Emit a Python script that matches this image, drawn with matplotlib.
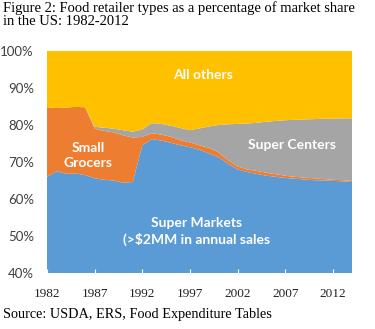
import numpy as np
import matplotlib.pyplot as plt

years = list(range(1982, 2015))

# доли рынка, % (оценка по картинке)
super_markets = [66.0, 67.5, 66.8, 66.9, 66.5, 65.6, 65.2, 65.0, 64.4, 64.6,
                 74.5, 76.2, 75.8, 75.2, 74.5, 74.0, 73.3, 72.3, 71.3, 69.5,
                 68.0, 67.3, 66.8, 66.3, 66.0, 65.7, 65.5, 65.3, 65.1, 65.0,
                 64.9, 64.8, 64.6]
small_grocers = [18.8, 17.1, 17.9, 18.0, 18.3, 13.4, 13.2, 13.0, 12.8, 12.0,
                 2.3, 1.6, 1.6, 1.6, 1.4, 1.3, 1.2, 1.5, 1.3, 1.0,
                 0.8, 0.7, 0.8, 0.8, 0.7, 0.6, 0.5, 0.5, 0.5, 0.4,
                 0.3, 0.3, 0.3]
super_centers = [0.0, 0.0, 0.0, 0.0, 0.0, 0.5, 0.9, 1.0, 1.4, 1.6,
                 2.0, 2.7, 2.9, 3.0, 3.3, 3.3, 4.6, 5.8, 7.4, 9.7,
                 11.5, 12.4, 13.0, 13.8, 14.4, 15.0, 15.4, 15.7, 16.0, 16.3,
                 16.5, 16.7, 16.9]
all_others = [15.2, 15.4, 15.3, 15.1, 15.2, 20.5, 20.7, 21.0, 21.4, 21.8,
              21.2, 19.5, 19.7, 20.2, 20.8, 21.4, 20.9, 20.4, 20.0, 19.8,
              19.7, 19.6, 19.4, 19.1, 18.9, 18.7, 18.6, 18.5, 18.4, 18.3,
              18.3, 18.2, 18.2]

x_ticks = [1982, 1987, 1992, 1997, 2002, 2007, 2012]
y_ticks = [40, 50, 60, 70, 80, 90, 100]

colors = ["#5B9BD5", "#ED7D31", "#A5A5A5", "#FFC000"]

fig = plt.figure(figsize=(3.75, 3.29), dpi=100)
ax = fig.add_axes([0.1253, 0.170, 0.8134, 0.675])

ax.stackplot(years, super_markets, small_grocers, super_centers, all_others,
             colors=colors, linewidth=0)

ax.set_xlim(years[0], years[-1])
ax.set_ylim(40, 100)
for s in ax.spines.values():
    s.set_visible(False)

ax.set_yticks(y_ticks)
ax.set_yticklabels([f"{v}%" for v in y_ticks], family="Lato", fontsize=9.5,
                   color="#404040")
ax.tick_params(axis="y", length=0, pad=9.5)
ax.set_xticks(x_ticks)
ax.set_xticklabels([str(v) for v in x_ticks], family="Liberation Serif",
                   fontsize=9.5, color="#222222")
ax.tick_params(axis="x", direction="in", length=3, color="white", pad=11)

lbl = dict(color="white", fontweight="bold", family="Lato", fontsize=10,
           ha="center", va="center", linespacing=1.35)
ax.text(1998.4, 93.6, "All others", **lbl)
ax.text(2007.7, 74.6, "Super Centers", **lbl)
ax.text(1986.3, 71.8, "Small\nGrocers", **lbl)
ax.text(1997.7, 51.2, "Super Markets\n(>$2MM in annual sales", **lbl)

fig.text(0.008, 0.995,
         "Figure 2: Food retailer types as a percentage of market share\n"
         "in the US: 1982-2012",
         family="Liberation Serif", fontsize=10.5, va="top", ha="left",
         linespacing=1.0)
fig.text(0.008, 0.025, "Source: USDA, ERS, Food Expenditure Tables",
         family="Liberation Serif", fontsize=10.3, va="bottom", ha="left")

fig.savefig("out.png", dpi=100)
